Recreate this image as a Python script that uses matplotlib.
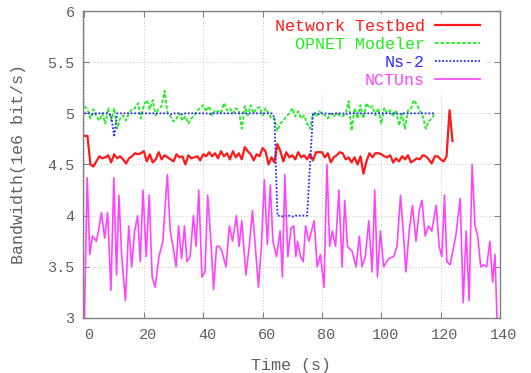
import matplotlib
matplotlib.use("Agg")
import matplotlib.pyplot as plt
import matplotlib.transforms as mtransforms
import numpy as np

# Network Testbed, one sample per second from t=0
testbed = [
    4.78, 4.78, 4.50, 4.48, 4.53, 4.58, 4.56, 4.57, 4.59, 4.52,
    4.60, 4.56, 4.58, 4.55, 4.51, 4.56, 4.58, 4.61, 4.60, 4.61,
    4.63, 4.53, 4.60, 4.52, 4.55, 4.62, 4.55, 4.59, 4.57, 4.55,
    4.53, 4.60, 4.57, 4.58, 4.50, 4.59, 4.56, 4.57, 4.58, 4.54,
    4.60, 4.58, 4.62, 4.58, 4.61, 4.56, 4.63, 4.58, 4.61, 4.55,
    4.63, 4.57, 4.61, 4.55, 4.67, 4.63, 4.60, 4.54, 4.60, 4.58,
    4.66, 4.63, 4.50, 4.57, 4.52, 4.70, 4.63, 4.53, 4.62, 4.57,
    4.59, 4.55, 4.62, 4.57, 4.59, 4.55, 4.60, 4.54, 4.62, 4.62,
    4.62, 4.57, 4.61, 4.52, 4.57, 4.59, 4.62, 4.61, 4.55, 4.57,
    4.52, 4.57, 4.50, 4.58, 4.41, 4.53, 4.61, 4.57, 4.61, 4.61,
    4.60, 4.58, 4.57, 4.59, 4.52, 4.56, 4.53, 4.58, 4.55, 4.59,
    4.52, 4.54, 4.56, 4.55, 4.59, 4.58, 4.55, 4.51, 4.58, 4.58,
    4.55, 4.53, 4.58, 5.03, 4.73,
]

opnet = [
    5.07, 5.04, 4.95, 5.04, 4.97, 4.93, 5.00, 4.90, 5.05, 4.93,
    5.05, 4.85, 4.95, 4.98, 4.93, 5.00, 5.04, 5.05, 5.10, 4.95,
    5.08, 5.13, 5.04, 5.13, 4.98, 5.05, 5.07, 5.22, 5.00, 4.97,
    4.92, 4.95, 5.00, 4.93, 4.97, 4.90, 4.95, 4.98, 5.03, 5.05,
    5.08, 5.02, 5.07, 4.98, 5.03, 5.02, 5.00, 5.10, 5.03, 5.05,
    5.00, 5.05, 5.03, 4.85, 5.07, 4.98, 5.08, 5.00, 5.05, 5.06,
    4.98, 5.05, 5.00, 4.95, 4.95, 4.83, 4.90, 4.93, 4.97, 5.00,
    5.05, 4.97, 5.02, 4.95, 4.98, 4.90, 4.85, 5.00, 4.97, 5.02,
    5.00, 4.98, 4.95, 5.00, 4.97, 5.00, 4.98, 4.97, 5.00, 5.12,
    4.83, 5.05, 4.95, 5.08, 4.95, 5.10, 5.05, 5.07, 4.98, 5.05,
    4.90, 5.05, 5.00, 5.03, 4.97, 5.03, 4.88, 5.00, 4.85, 5.03,
    5.05, 5.13, 5.08, 5.03, 4.97, 4.85, 4.92, 4.95, 5.00,
]

ns2 = [
    5.00, 5.00, 5.00, 4.99, 5.00, 5.00, 5.00, 5.00, 5.00, 4.98,
    4.77, 5.00, 5.00, 5.00, 5.00, 5.00, 5.00, 5.00, 5.00, 5.00,
    5.00, 5.00, 5.00, 5.00, 5.00, 5.00, 5.00, 5.00, 5.00, 4.99,
    5.00, 5.00, 5.00, 4.99, 5.00, 5.00, 5.00, 5.00, 5.00, 5.00,
    5.00, 5.00, 4.99, 5.00, 5.00, 5.00, 5.00, 5.00, 5.00, 5.00,
    5.00, 5.00, 5.00, 5.00, 5.00, 5.00, 5.00, 5.00, 5.00, 5.00,
    5.00, 5.00, 5.00, 5.00, 4.96, 4.00, 4.00, 3.99, 4.00, 4.00,
    3.99, 4.00, 4.00, 4.00, 4.00, 4.00, 4.50, 5.00, 5.00, 4.99,
    5.00, 5.00, 5.00, 4.99, 5.00, 5.00, 5.00, 5.00, 4.99, 5.00,
    5.00, 5.00, 5.00, 5.00, 5.00, 5.00, 5.00, 5.00, 5.00, 5.00,
    5.00, 5.00, 5.00, 5.00, 5.00, 5.00, 4.99, 5.00, 5.00, 5.00,
    5.00, 5.00, 5.00, 5.00, 5.00, 5.00, 5.00, 5.00, 5.00,
]

nctuns_t = [
    0.0, 0.9, 1.8, 2.7, 4.0, 4.7, 5.7, 6.8, 7.8, 8.9,
    9.9, 10.8, 11.6, 12.5, 13.8, 14.9, 15.9, 16.9, 17.9, 18.8,
    19.7, 20.8, 21.8, 22.8, 23.8, 25.1, 26.4, 27.9, 28.9, 29.8,
    30.9, 31.7, 32.7, 33.7, 34.5, 35.6, 36.7, 37.6, 38.5, 39.6,
    40.6, 41.5, 42.5, 43.5, 44.5, 45.4, 46.3, 47.7, 48.8, 49.9,
    51.2, 52.1, 53.0, 54.4, 55.5, 56.6, 57.7, 58.6, 59.6, 60.6,
    61.6, 62.6, 63.5, 64.7, 65.9, 66.7, 67.5, 68.5, 69.6, 70.5,
    71.2, 71.8, 72.8, 73.7, 74.5, 75.6, 76.5, 77.4, 78.4, 79.5,
    80.7, 81.7, 82.6, 83.5, 84.6, 85.7, 86.8, 87.7, 88.6, 90.2,
    91.5, 92.6, 93.5, 94.6, 95.8, 96.9, 97.8, 98.7, 99.7, 100.8,
    102.5, 104.2, 105.3, 106.5, 107.5, 108.3, 109.4, 110.5, 111.7, 112.8,
    113.7, 114.8, 115.9, 117.0, 118.5, 119.5, 120.4, 121.3, 122.1, 123.2,
    125.1, 126.6, 127.6, 128.6, 129.6, 130.6, 131.6, 132.5, 133.5, 134.4,
    135.5, 136.6, 137.5, 138.3, 139.0,
]
nctuns = [
    3.00, 4.37, 3.62, 3.80, 3.75, 3.85, 4.03, 3.78, 4.03, 3.27,
    4.37, 3.42, 4.20, 3.62, 3.17, 3.90, 3.50, 3.85, 4.00, 3.55,
    4.25, 3.60, 4.20, 3.40, 3.30, 3.60, 3.75, 4.40, 3.85, 3.70,
    3.50, 3.90, 3.58, 3.90, 3.55, 3.60, 4.00, 3.70, 4.25, 3.40,
    3.45, 4.20, 3.80, 3.28, 3.70, 3.70, 3.65, 3.50, 3.90, 3.75,
    4.00, 3.70, 3.95, 3.42, 3.70, 4.05, 3.65, 3.30, 3.70, 4.35,
    3.72, 4.30, 3.75, 3.60, 3.85, 3.40, 4.40, 3.60, 3.88, 3.90,
    3.60, 3.75, 3.60, 3.55, 3.90, 3.75, 3.85, 3.95, 3.50, 3.62,
    3.30, 4.50, 3.70, 3.85, 3.70, 4.25, 3.50, 4.15, 3.70, 3.65,
    3.50, 3.80, 3.50, 3.60, 3.95, 3.45, 4.25, 3.40, 3.85, 3.50,
    3.58, 3.60, 3.70, 4.20, 3.80, 3.45, 3.85, 4.10, 3.75, 4.05,
    4.15, 3.80, 3.90, 3.85, 4.10, 3.70, 3.60, 4.20, 3.55, 3.52,
    3.80, 4.17, 3.15, 3.85, 3.17, 4.50, 3.90, 3.80, 3.50, 3.52,
    3.50, 3.75, 3.35, 3.62, 3.00,
]

xticks = [0, 20, 40, 60, 80, 100, 120, 140]
yticks = [3, 3.5, 4, 4.5, 5, 5.5, 6]
ytick_labels = ["3", "3.5", "4", "4.5", "5", "5.5", "6"]

TEXT = "#606060"
FRAME = "#808080"
plt.rcParams["font.family"] = ["Liberation Mono", "DejaVu Sans Mono"]

fig = plt.figure(figsize=(5.31, 3.73), dpi=100)
ax = fig.add_axes([0.1563, 0.1475, 0.7853, 0.823])

ax.plot(np.arange(len(testbed)), testbed, color="#ff1a1a", lw=1.6, label="Network Testbed")
ax.plot(np.arange(len(opnet)), opnet, color="#22ee22", lw=1.3, ls=(0, (2, 1)), label="OPNET Modeler")
ax.plot(np.arange(len(ns2)), ns2, color="#2a2aff", lw=1.3, ls=(0, (1, 1)), label="Ns-2")
ax.plot(nctuns_t, nctuns, color="#ff44ff", lw=1.2, label="NCTUns")

ax.set_xlim(-0.5, 140)
ax.set_ylim(3, 6)
ax.set_xticks(xticks)
ax.set_yticks(yticks)
ax.set_yticklabels(ytick_labels)
ax.grid(True, color="#c8c8c8", ls=(0, (1, 2)), lw=0.7)
ax.tick_params(direction="in", top=True, right=True, length=4, width=0.8,
               color=FRAME, labelcolor=TEXT, labelsize=11)
ax.tick_params(axis="x", pad=7)
ax.tick_params(axis="y", pad=6)
for s in ax.spines.values():
    s.set_color(FRAME)
    s.set_linewidth(1.0)

# gnuplot put the x labels a little right of the tick
shift = mtransforms.ScaledTranslation(4 / 100, 0, fig.dpi_scale_trans)
for lab in ax.get_xticklabels():
    lab.set_transform(lab.get_transform() + shift)

ax.set_xlabel("Time (s)", fontsize=12, color=TEXT, labelpad=12)
ax.set_ylabel("Bandwidth(1e6 bit/s)", fontsize=12, color=TEXT, labelpad=15)

leg = ax.legend(loc="upper right", bbox_to_anchor=(0.964, 0.99), borderaxespad=0,
                markerfirst=False, labelcolor="linecolor",
                fontsize=12, handlelength=2.7, handletextpad=0.6,
                labelspacing=0.17, borderpad=0.3,
                frameon=True, fancybox=False, edgecolor="none",
                facecolor="white", framealpha=1.0)

fig.savefig("out.png", dpi=100)
